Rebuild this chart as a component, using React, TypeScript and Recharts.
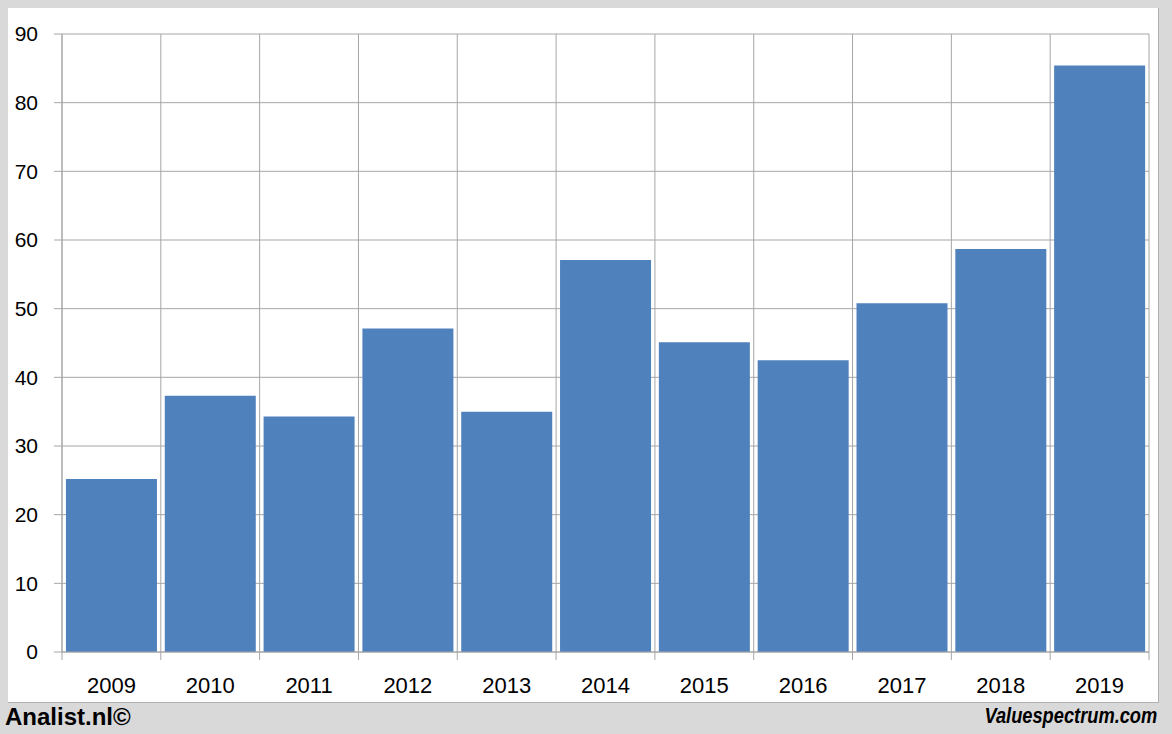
import { BarChart, Bar, XAxis, YAxis, CartesianGrid } from "recharts";

const years = ["2009", "2010", "2011", "2012", "2013", "2014", "2015", "2016", "2017", "2018", "2019"];
const values = [25.2, 37.3, 34.3, 47.1, 35.0, 57.1, 45.1, 42.5, 50.8, 58.7, 85.4];
const yTicks = [0, 10, 20, 30, 40, 50, 60, 70, 80, 90];

const data = years.map((year, i) => ({ year, value: values[i] }));

const W = 1172;
const H = 734;
const M = { top: 34, right: 23, left: 0, bottom: 42 };
const Y_AXIS_W = 62;
const X_AXIS_H = 40;
const GRID = "#a6a6a6";
const FONT = "'Liberation Sans', Arial, sans-serif";
const band = (W - M.left - M.right - Y_AXIS_W) / years.length;

function YearTick(props: any) {
  const { x, y, payload, index } = props;
  const axisY = y - 10;
  return (
    <g>
      <line x1={x - band / 2} x2={x - band / 2} y1={axisY} y2={axisY + 8} stroke={GRID} />
      {index === years.length - 1 && (
        <line x1={x + band / 2} x2={x + band / 2} y1={axisY} y2={axisY + 8} stroke={GRID} />
      )}
      <text x={x} y={axisY + 41} textAnchor="middle" fontSize={22} fontFamily={FONT} fill="#000">
        {payload.value}
      </text>
    </g>
  );
}

export default function App() {
  return (
    <div style={{ position: "absolute", left: 0, top: 0, width: W, height: H, background: "#d9d9d9", overflow: "hidden" }}>
      <div
        style={{
          position: "absolute",
          left: 8,
          top: 8,
          width: 1150,
          height: 694,
          background: "#fff",
          borderRight: "1px solid #b0b0b0",
          borderBottom: "1px solid #b0b0b0",
        }}
      />
      <div style={{ position: "absolute", left: 0, top: 0 }}>
        <BarChart width={W} height={H} data={data} margin={M} barCategoryGap="4%">
          <CartesianGrid
            stroke={GRID}
            verticalCoordinatesGenerator={({ offset }: any) =>
              Array.from({ length: years.length + 1 }, (_, i) => offset.left + (offset.width * i) / years.length)
            }
          />
          <XAxis
            dataKey="year"
            height={X_AXIS_H}
            tickLine={false}
            tickSize={8}
            tickMargin={2}
            axisLine={{ stroke: GRID }}
            tick={<YearTick />}
            interval={0}
          />
          <YAxis
            width={Y_AXIS_W}
            domain={[0, 90]}
            ticks={yTicks}
            tickSize={8}
            tickMargin={16}
            tickLine={{ stroke: GRID }}
            axisLine={{ stroke: GRID }}
            tick={{ fill: "#000", fontSize: 21, fontFamily: FONT }}
            interval={0}
          />
          <Bar dataKey="value" fill="#4f81bd" isAnimationActive={false} />
        </BarChart>
      </div>
      <div
        style={{
          position: "absolute",
          left: 5,
          top: 702,
          fontFamily: FONT,
          fontWeight: "bold",
          fontSize: 24,
          lineHeight: "30px",
          color: "#000",
        }}
      >
        Analist.nl©
      </div>
      <div
        style={{
          position: "absolute",
          right: 15,
          top: 701,
          fontFamily: FONT,
          fontWeight: "bold",
          fontStyle: "italic",
          fontSize: 22,
          lineHeight: "30px",
          color: "#000",
          transform: "scaleX(0.83)",
          transformOrigin: "right center",
          whiteSpace: "nowrap",
        }}
      >
        Valuespectrum.com
      </div>
    </div>
  );
}
